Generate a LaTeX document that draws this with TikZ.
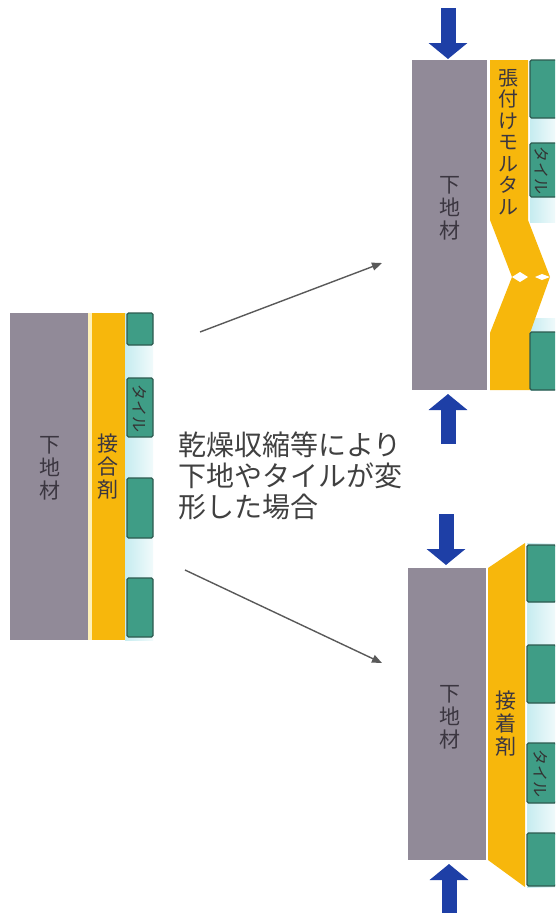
\documentclass[tikz,border=0pt]{standalone}
\usepackage{fontspec}
\setmainfont{Noto Sans CJK JP}
\usetikzlibrary{arrows.meta}

\definecolor{basegray}{HTML}{918A98}
\definecolor{glue}{HTML}{F7B70C}
\definecolor{gluepale}{HTML}{FFF1B8}
\definecolor{tilegreen}{HTML}{3F9D86}
\definecolor{tileedge}{HTML}{2D5A4F}
\definecolor{joint}{HTML}{C6ECF0}
\definecolor{pressblue}{HTML}{1E3FA6}
\definecolor{ink}{HTML}{3B3640}

\begin{document}
\begin{tikzpicture}[x=1pt, y=-1pt,
    tile/.style={fill=tilegreen, draw=tileedge, line width=1.2pt, rounded corners=1.5pt},
    vlabel/.style={align=center, inner sep=0pt, text=ink, font=\fontsize{21}{23}\selectfont},
    tilelabel/.style={rotate=-90, inner sep=0pt, text=black!80, font=\fontsize{16}{16}\selectfont},
    pressarrow/.style={draw=pressblue, line width=15pt, -{Triangle[width=38pt, length=16pt]}},
    moveline/.style={draw=black!65, line width=1.4pt, -{Triangle[width=8pt, length=10pt]}}]

    \useasboundingbox (0,0) rectangle (555,913);
    \clip (0,0) rectangle (555,913);

    % before: base, adhesive, tiles
    \fill[basegray] (10,313) rectangle (88,640);
    \fill[gluepale] (88,313) rectangle (92,640);
    \fill[glue] (92,313) rectangle (125,640);
    \shade[left color=joint, right color=joint!25] (125,313) rectangle (153,640);
    \foreach \ya/\yb in {313/345, 378/437, 478/538, 578/637}
        \draw[tile] (127,\ya) rectangle (153,\yb);
    \node[vlabel] (sub1) at (50,468) {下\\地\\材};
    \node[vlabel] (glue1) at (108,467) {接\\合\\剤};
    \node[tilelabel] (tl1) at (140,408) {タイル};

    % mortar case, bent outwards
    \fill[basegray] (412,60) rectangle (487,390);
    \shade[left color=joint, right color=joint!25] (530,60) rectangle (556,222);
    \shade[left color=joint, right color=joint!25] (530,318) rectangle (556,390);
    \fill[glue] (490,60) -- (528,60) -- (528,220) -- (550,277) -- (530,333)
        -- (530,390) -- (490,390) -- (490,333) -- (512,277) -- (490,220) -- cycle;
    \fill[white] (512,277) -- (520,272) -- (528,277) -- (520,282) -- cycle;
    \fill[white] (535,277) -- (542,274) -- (550,277) -- (542,280) -- cycle;
    \foreach \ya/\yb in {60/118, 143/197, 332/390}
        \draw[tile] (530,\ya) rectangle (558,\yb);
    \node[vlabel] (sub2) at (450,208) {下\\地\\材};
    \node[vlabel, font=\fontsize{20}{21.5}\selectfont] (glue2) at (508,142)
        {張\\付\\け\\モ\\ル\\タ\\ル};
    \node[tilelabel] (tl2) at (542,170) {タイル};

    % adhesive case, tapered layer
    \fill[basegray] (408,568) rectangle (486,860);
    \shade[left color=joint, right color=joint!25] (527,543) rectangle (556,887);
    \fill[glue] (488,568) -- (525,543) -- (525,887) -- (488,860) -- cycle;
    \foreach \ya/\yb in {545/602, 645/703, 743/803, 833/886}
        \draw[tile] (527,\ya) rectangle (556,\yb);
    \node[vlabel] (sub3) at (450,717) {下\\地\\材};
    \node[vlabel] (glue3) at (506,724) {接\\着\\剤};
    \node[tilelabel] (tl3) at (541,773) {タイル};

    % loads on the bases
    \coordinate (loadA) at (448,8);
    \coordinate (hitA) at (448,59);
    \coordinate (loadB) at (448,444);
    \coordinate (hitB) at (448,394);
    \coordinate (loadC) at (446,514);
    \coordinate (hitC) at (446,565);
    \coordinate (loadD) at (449,913);
    \coordinate (hitD) at (449,864);
    \draw[pressarrow] (loadA) -- (hitA);
    \draw[pressarrow] (loadB) -- (hitB);
    \draw[pressarrow] (loadC) -- (hitC);
    \draw[pressarrow] (loadD) -- (hitD);

    % cause and the two outcomes
    \node[anchor=north west, align=left, inner sep=0pt, text=black!75,
        font=\fontsize{28}{31}\selectfont] (cause) at (178,432)
        {乾燥収縮等により\\下地やタイルが変\\形した場合};
    \coordinate (fromup) at (200,332);
    \coordinate (toup) at (382,263);
    \coordinate (fromdown) at (185,570);
    \coordinate (todown) at (382,663);
    \draw[moveline] (fromup) -- (toup);
    \draw[moveline] (fromdown) -- (todown);
\end{tikzpicture}
\end{document}
